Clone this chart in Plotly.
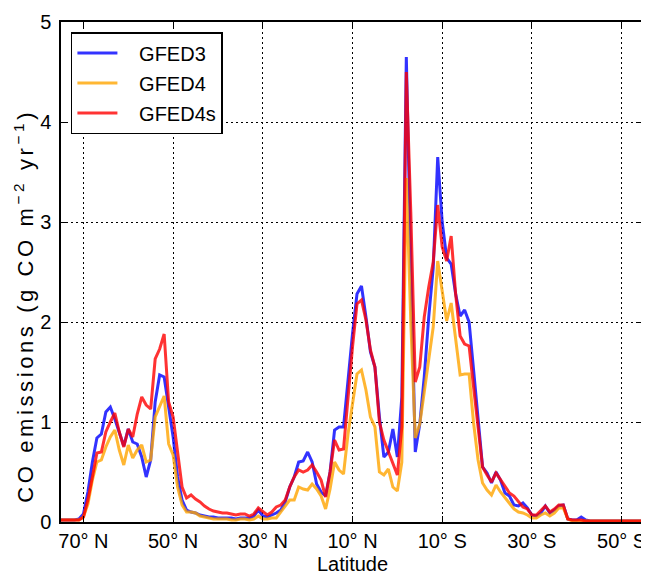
import plotly.graph_objects as go

# Latitude (degrees, + = North), 1-degree steps from 75N to 55S
latitude = list(range(75, -56, -1))

gfed3 = [0.02, 0.02, 0.02, 0.02, 0.03, 0.08, 0.30, 0.60, 0.84, 0.88,   # 75..66
         1.10, 1.15, 1.03, 0.90, 0.76, 0.93, 0.80, 0.78, 0.65, 0.45,   # 65..56
         0.62, 1.20, 1.47, 1.45, 1.15, 0.85, 0.45, 0.22, 0.12, 0.10,   # 55..46
         0.09, 0.07, 0.06, 0.05, 0.05, 0.04, 0.04, 0.04, 0.04, 0.03,   # 45..36
         0.04, 0.04, 0.04, 0.06, 0.12, 0.06, 0.05, 0.07, 0.09, 0.12,   # 35..26
         0.20, 0.35, 0.45, 0.60, 0.61, 0.70, 0.60, 0.38, 0.30, 0.26,   # 25..16
         0.50, 0.92, 0.95, 0.95, 1.45, 1.88, 2.28, 2.36, 2.05, 1.70,   # 15..6
         1.55, 1.05, 0.65, 0.70, 0.93, 0.65, 1.25, 4.65, 2.60, 0.70,   # 5..-4
         0.98, 1.45, 2.05, 2.54, 3.65, 3.00, 2.64, 2.58, 2.28, 2.06,   # -5..-14
         2.12, 2.00, 1.52, 1.02, 0.55, 0.49, 0.39, 0.50, 0.42, 0.29,   # -15..-24
         0.26, 0.17, 0.16, 0.19, 0.14, 0.07, 0.06, 0.09, 0.16, 0.09,   # -25..-34
         0.12, 0.16, 0.17, 0.03, 0.02, 0.02, 0.05, 0.02, 0.01, 0.01,   # -35..-44
         0.01, 0.01, 0.01, 0.01, 0.01, 0.01, 0.01, 0.01, 0.01, 0.01,   # -45..-54
         0.01]                                                          # -55

gfed4 = [0.02, 0.02, 0.02, 0.02, 0.02, 0.05, 0.18, 0.42, 0.60, 0.62,
         0.75, 0.85, 0.92, 0.72, 0.57, 0.77, 0.64, 0.72, 0.77, 0.60,
         0.62, 1.05, 1.15, 1.26, 0.78, 0.67, 0.35, 0.17, 0.10, 0.10,
         0.09, 0.06, 0.05, 0.04, 0.03, 0.03, 0.03, 0.03, 0.02, 0.02,
         0.03, 0.03, 0.02, 0.03, 0.06, 0.03, 0.03, 0.04, 0.04, 0.10,
         0.16, 0.22, 0.22, 0.35, 0.33, 0.32, 0.38, 0.33, 0.26, 0.13,
         0.33, 0.60, 0.52, 0.48, 0.88, 1.20, 1.48, 1.52, 1.32, 1.05,
         0.95, 0.50, 0.47, 0.53, 0.35, 0.31, 0.60, 3.44, 2.00, 0.84,
         0.98, 1.30, 1.62, 1.95, 2.61, 2.31, 2.01, 2.19, 1.81, 1.47,
         1.48, 1.48, 0.99, 0.62, 0.39, 0.32, 0.27, 0.37, 0.30, 0.24,
         0.18, 0.13, 0.10, 0.09, 0.07, 0.04, 0.04, 0.07, 0.09, 0.06,
         0.09, 0.14, 0.14, 0.03, 0.01, 0.01, 0.01, 0.01, 0.01, 0.01,
         0.01, 0.01, 0.01, 0.01, 0.01, 0.01, 0.01, 0.01, 0.01, 0.01,
         0.01]

gfed4s = [0.02, 0.02, 0.02, 0.02, 0.02, 0.05, 0.22, 0.45, 0.69, 0.70,
          0.90, 1.00, 1.09, 0.90, 0.75, 0.93, 0.85, 1.08, 1.25, 1.17,
          1.13, 1.63, 1.73, 1.88, 1.20, 1.05, 0.70, 0.35, 0.24, 0.27,
          0.23, 0.20, 0.16, 0.13, 0.11, 0.10, 0.09, 0.09, 0.08, 0.07,
          0.08, 0.08, 0.06, 0.08, 0.14, 0.10, 0.07, 0.10, 0.15, 0.17,
          0.22, 0.35, 0.45, 0.52, 0.50, 0.52, 0.57, 0.50, 0.42, 0.25,
          0.50, 0.82, 0.72, 0.73, 1.25, 1.75, 2.18, 2.22, 2.02, 1.72,
          1.55, 1.00, 0.82, 0.70, 0.58, 0.47, 0.95, 4.50, 3.10, 1.40,
          1.55, 2.05, 2.35, 2.60, 3.17, 2.75, 2.61, 2.86, 2.28, 1.86,
          1.78, 1.76, 1.35, 0.95, 0.55, 0.47, 0.40, 0.49, 0.42, 0.36,
          0.29, 0.26, 0.20, 0.15, 0.13, 0.07, 0.07, 0.11, 0.16, 0.10,
          0.13, 0.17, 0.17, 0.03, 0.02, 0.02, 0.02, 0.01, 0.01, 0.01,
          0.01, 0.01, 0.01, 0.01, 0.01, 0.01, 0.01, 0.01, 0.01, 0.01,
          0.01]

series_names = ["GFED3", "GFED4", "GFED4s"]
series_colors = ["rgb(0,0,255)", "rgb(255,165,0)", "rgb(255,0,0)"]

tick_vals = [70, 50, 30, 10, -10, -30, -50]
tick_text = ["70° N", "50° N", "30° N", "10° N", "10° S", "30° S", "50° S"]

FONT = "Liberation Sans, Arial, sans-serif"
PAD = "\u00a0\u00a0\u00a0"

fig = go.Figure()
for i, (name, ys, col) in enumerate(zip(series_names, [gfed3, gfed4, gfed4s], series_colors)):
    fig.add_trace(go.Scatter(
        x=latitude, y=ys, mode="lines", name=PAD + name,
        line=dict(color=col, width=3), opacity=0.8,
        legendgroup=f"g{i}",
    ))

axis_common = dict(
    showline=True, linecolor="black", linewidth=1.5, mirror="ticks",
    ticks="inside", ticklen=6, tickcolor="black", tickwidth=1,
    showgrid=True, gridcolor="black", gridwidth=1, griddash="2px,3px",
    zeroline=False, tickfont=dict(family=FONT, size=20, color="black"),
)

ytitle = ("<span style='letter-spacing:3.6px'>CO emissions (g CO m"
          "<sup>−2</sup> yr<sup>−1</sup>)</span>")

fig.update_layout(
    width=641, height=569,
    margin=dict(l=53, r=3, t=12, b=55),
    paper_bgcolor="white", plot_bgcolor="white",
    font=dict(family=FONT, size=20, color="black"),
    xaxis=dict(range=[75, -55], tickvals=tick_vals, ticktext=tick_text,
               title=dict(text="Latitude", font=dict(size=20), standoff=6),
               **axis_common),
    yaxis=dict(range=[0, 5], tickvals=[0, 1, 2, 3, 4, 5],
               ticklabelstandoff=4, **axis_common),
    legend=dict(x=0.017, y=0.98, xanchor="left", yanchor="top",
                bgcolor="white", bordercolor="black", borderwidth=1.5,
                font=dict(family=FONT, size=20), tracegroupgap=1,
                itemwidth=40),
    showlegend=True,
    annotations=[dict(text=ytitle, textangle=-90, showarrow=False,
                      xref="paper", yref="paper", x=-0.064, y=0.432,
                      xanchor="center", yanchor="middle",
                      font=dict(family=FONT, size=22, color="black"))],
)

fig.write_html("out.html")
